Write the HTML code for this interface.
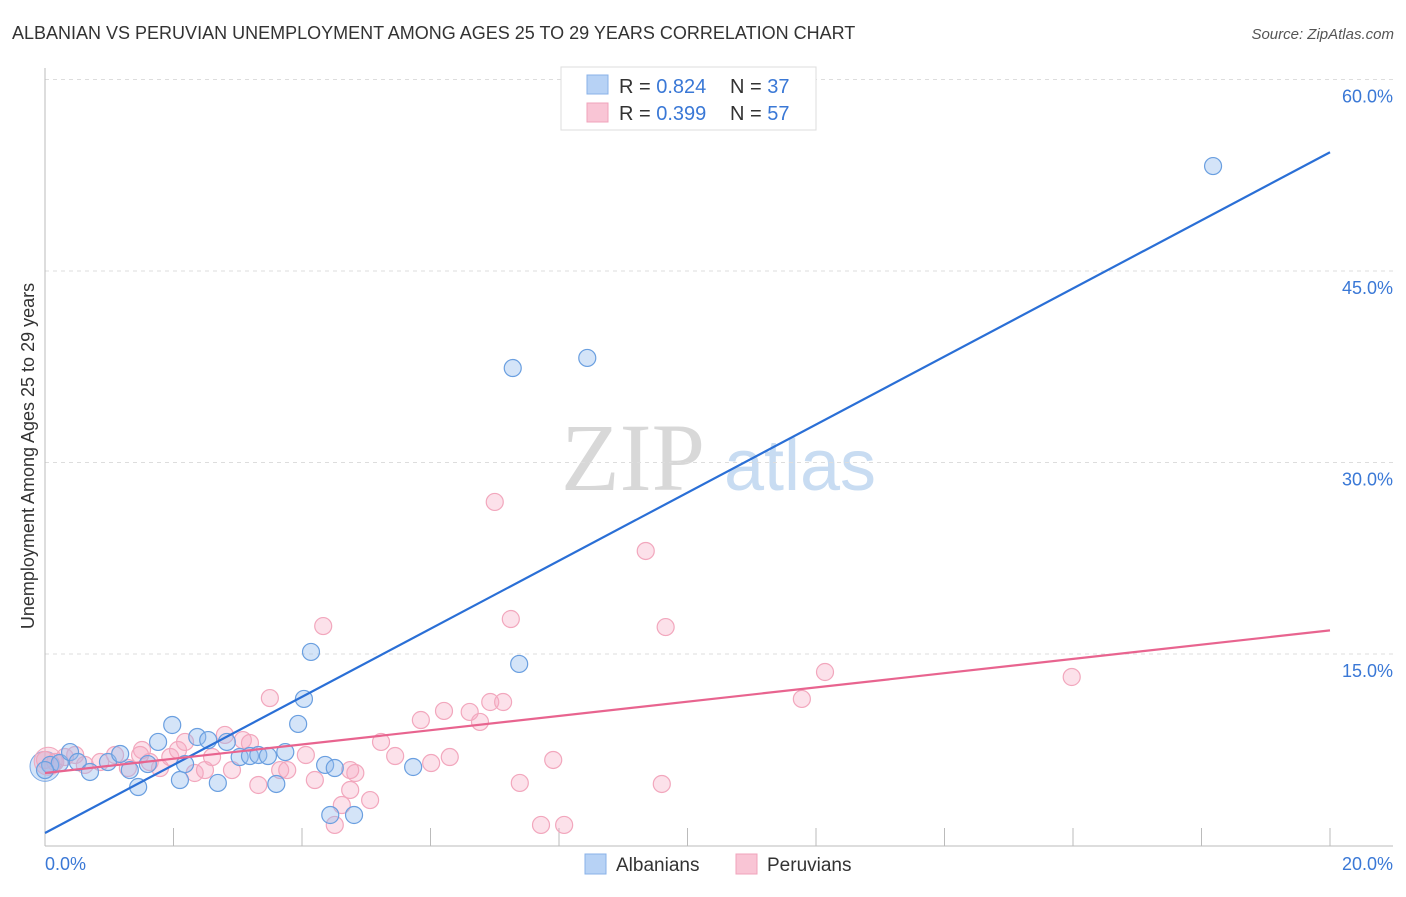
<!DOCTYPE html>
<html><head><meta charset="utf-8"><style>
body{margin:0;background:#fff;font-family:"Liberation Sans",sans-serif;}
svg text{font-family:"Liberation Sans",sans-serif;}
</style></head><body>
<svg id="chart" width="1406" height="892" viewBox="0 0 1406 892" xmlns="http://www.w3.org/2000/svg">
<text x="12" y="39" font-size="18" fill="#333">ALBANIAN VS PERUVIAN UNEMPLOYMENT AMONG AGES 25 TO 29 YEARS CORRELATION CHART</text>
<text x="1394" y="39" font-size="15" fill="#555" font-style="italic" text-anchor="end">Source: ZipAtlas.com</text>
<g>
<text x="633" y="490" font-size="96" fill="#d8d8d8" text-anchor="middle" font-family="Liberation Serif" style="font-family:'Liberation Serif',serif">ZIP</text>
<text x="800" y="490" font-size="72" fill="#c8dcf2" text-anchor="middle">atlas</text>
</g>
<g id="grid"></g>
<g id="axes"></g>
<g id="points"></g>
<g id="trend"></g>
<text transform="translate(34,456) rotate(-90)" font-size="18" fill="#333" text-anchor="middle">Unemployment Among Ages 25 to 29 years</text>
<g>
<rect x="561" y="67" width="255" height="63" fill="#fff" stroke="#ddd"/>
<rect x="587" y="75" width="21" height="19" fill="#b7d2f5" stroke="#88b2e8"/>
<rect x="587" y="103" width="21" height="19" fill="#f9c5d5" stroke="#f0a3bb"/>
<text x="619" y="93" font-size="20" fill="#333">R = <tspan fill="#3a78d6">0.824</tspan></text>
<text x="730" y="93" font-size="20" fill="#333">N = <tspan fill="#3a78d6">37</tspan></text>
<text x="619" y="120" font-size="20" fill="#333">R = <tspan fill="#3a78d6">0.399</tspan></text>
<text x="730" y="120" font-size="20" fill="#333">N = <tspan fill="#3a78d6">57</tspan></text>
</g>
<g>
<rect x="585" y="854" width="21" height="20" fill="#b7d2f5" stroke="#88b2e8"/>
<text x="616" y="871" font-size="19" fill="#333">Albanians</text>
<rect x="736" y="854" width="21" height="20" fill="#f9c5d5" stroke="#f0a3bb"/>
<text x="767" y="871" font-size="19" fill="#333">Peruvians</text>
</g>
</svg>
<script>
const yTicks=[15,30,45,60];
const yTickLabels=["15.0%","30.0%","45.0%","60.0%"];
const xTickCount=10;
const xLabels=["0.0%","20.0%"];
const albX=[0.08,0.23,0.39,0.51,0.70,0.98,1.17,1.32,1.45,1.60,1.76,1.98,2.10,2.18,2.37,2.54,2.69,2.83,3.03,3.19,3.32,3.47,3.60,3.74,3.94,4.03,4.14,4.36,4.44,4.51,4.81,5.73,7.28,7.38,8.44,18.18,0.0];
const albY=[6.31,6.46,7.32,6.54,5.76,6.54,7.17,5.91,4.58,6.38,8.11,9.44,5.13,6.38,8.50,8.26,4.90,8.11,6.93,7.01,7.09,7.01,4.82,7.32,9.52,11.48,15.16,6.31,2.39,6.07,2.39,6.15,37.40,14.22,38.19,53.22,5.91];
const perX=[0,0.16,0.31,0.47,0.62,0.86,1.09,1.29,1.51,1.63,1.79,1.95,2.07,2.18,2.33,2.49,2.60,2.80,2.91,3.08,3.19,3.32,3.50,3.66,3.77,4.06,4.20,4.33,4.51,4.62,4.75,4.83,5.06,5.23,5.45,5.85,6.01,6.21,6.30,6.61,6.77,6.93,7.00,7.13,7.25,7.39,7.72,7.91,8.08,9.35,9.60,9.66,11.78,12.14,15.98,4.75,1.48];
const perY=[6.70,6.54,6.93,7.09,6.31,6.54,7.09,6.07,7.48,6.54,6.07,6.93,7.48,8.11,5.68,5.91,6.93,8.66,5.91,8.26,8.03,4.74,11.55,5.91,5.91,7.09,5.13,17.19,1.61,3.17,4.35,5.68,3.56,8.11,7.01,9.83,6.46,10.54,6.93,10.46,9.68,11.24,26.91,11.24,17.74,4.90,1.61,6.70,1.61,23.07,4.82,17.11,11.48,13.59,13.20,5.91,7.09];
const albTrend=[0.98,54.3];
const perTrend=[5.68,16.85];
const NS="http://www.w3.org/2000/svg";
const X0=45,X1=1330,Y0=845.5,PXY=191.5/15;
function xs(v){return X0+(v/20)*(X1-X0);}
function ys(v){return Y0-v*PXY;}
function mk(tag,attrs,parent){const e=document.createElementNS(NS,tag);for(const k in attrs)e.setAttribute(k,attrs[k]);parent.appendChild(e);return e;}
const grid=document.getElementById('grid'),axes=document.getElementById('axes'),pts=document.getElementById('points'),tr=document.getElementById('trend');
let g=mk('line',{x1:X0,x2:1393,y1:ys(60),y2:ys(60),stroke:'#ddd','stroke-dasharray':'4,4'},grid);


yTicks.forEach((t,i)=>{
 const l=mk('line',{x1:X0,x2:1393,y1:ys(t),y2:ys(t),stroke:'#ddd','stroke-dasharray':'4,4'},grid);
 
 
 const tx=mk('text',{x:1393,y:ys(t)+23,'font-size':18,fill:'#3a78d6','text-anchor':'end'},axes);
 tx.textContent=yTickLabels[i];
 
 
});
let a=mk('line',{x1:X0,x2:X0,y1:68,y2:846,stroke:'#bbb'},axes);


a=mk('line',{x1:X0,x2:1393,y1:846,y2:846,stroke:'#bbb'},axes);


for(let i=1;i<=xTickCount;i++){
 const x=xs(i*20/xTickCount);
 const t=mk('line',{x1:x,x2:x,y1:828,y2:846,stroke:'#bbb'},axes);
 
 
}
let xl=mk('text',{x:45,y:870,'font-size':18,fill:'#3a78d6'},axes);xl.textContent=xLabels[0];


xl=mk('text',{x:1393,y:870,'font-size':18,fill:'#3a78d6','text-anchor':'end'},axes);xl.textContent=xLabels[1];


// big origin blobs
let bb=mk('circle',{cx:xs(0),cy:ys(6.2),r:15,fill:'rgba(147,187,238,0.4)',stroke:'#7aa8e4'},pts);


bb=mk('circle',{cx:xs(0.05),cy:ys(6.6),r:14,fill:'rgba(246,170,195,0.35)',stroke:'#f2a7bd'},pts);


perX.forEach((v,i)=>{
 const c=mk('circle',{cx:xs(v),cy:ys(perY[i]),r:8.5,fill:'rgba(246,170,195,0.35)',stroke:'#f2a7bd','stroke-width':1.2},pts);
 
 
});
albX.forEach((v,i)=>{
 const c=mk('circle',{cx:xs(v),cy:ys(albY[i]),r:8.5,fill:'rgba(147,187,238,0.4)',stroke:'#6a9fe0','stroke-width':1.2},pts);
 
 
});
let l1=mk('line',{x1:xs(0),y1:ys(albTrend[0]),x2:xs(20),y2:ys(albTrend[1]),stroke:'#2a6fd6','stroke-width':2.2},tr);


let l2=mk('line',{x1:xs(0),y1:ys(perTrend[0]),x2:xs(20),y2:ys(perTrend[1]),stroke:'#e8648f','stroke-width':2.2},tr);


</script>
</body></html>
